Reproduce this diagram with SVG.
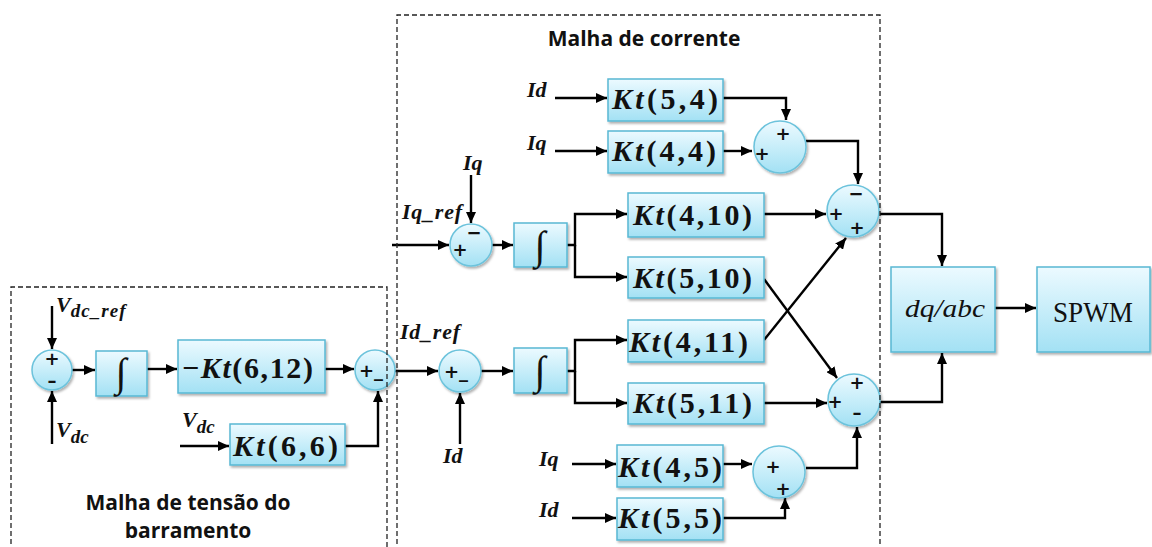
<svg xmlns="http://www.w3.org/2000/svg" width="1152" height="547" viewBox="0 0 1152 547">
  <style>
    .blk { fill: url(#fillG); stroke: #58b8d4; stroke-width: 1.5; filter: url(#shadow); }
    .sum { fill: url(#fillG); stroke: #6cc3dc; stroke-width: 1.5; filter: url(#shadow); }
    .kt { font-family: "Liberation Serif", "DejaVu Serif", serif; font-weight: bold; font-size: 30px; fill: #111; }
    .it { font-style: italic; }
    .intg { font-family: "Liberation Serif", "DejaVu Serif", serif; font-style: italic; font-size: 40px; fill: #111; text-anchor: middle; }
    .var { font-family: "Liberation Serif", "DejaVu Serif", serif; font-weight: bold; font-style: italic; font-size: 22px; fill: #111; }
    .sg { font-family: "DejaVu Sans", "Liberation Sans", sans-serif; font-weight: bold; font-size: 18px; fill: #111; text-anchor: middle; }
    .title { font-family: "Open Sans", "Liberation Sans", sans-serif; font-weight: bold; font-size: 21px; fill: #111; text-anchor: middle; }
    .wire { fill: none; stroke: #000; stroke-width: 2.4; marker-end: url(#arr); }
    .frame { fill: none; stroke: #222; stroke-width: 1.3; stroke-dasharray: 5 3; }
  </style>
  <defs>
    <linearGradient id="fillG" x1="0" y1="0" x2="0" y2="1">
      <stop offset="0" stop-color="#ecfaff"/>
      <stop offset="1" stop-color="#a3e1f4"/>
    </linearGradient>
    <filter id="shadow" x="-20%" y="-20%" width="150%" height="150%">
      <feDropShadow dx="1.5" dy="2" stdDeviation="1.2" flood-color="#000" flood-opacity="0.3"/>
    </filter>
    <marker id="arr" markerUnits="userSpaceOnUse" markerWidth="12" markerHeight="10" refX="11" refY="5" orient="auto">
      <path d="M0,0 L11,5 L0,10 Z" fill="#000"/>
    </marker>
  </defs>

  <!-- connectors -->
  <g id="connectors">
    <!-- DC bus voltage loop -->
    <path class="wire" d="M52,306 V349"/>
    <path class="wire" d="M52,444 V391"/>
    <path class="wire" d="M72,370 H95"/>
    <path class="wire" d="M147,369 H177"/>
    <path class="wire" d="M325,369 H354"/>
    <path class="wire" d="M180,446 H229"/>
    <path class="wire" d="M345,446 H378 V391"/>
    <!-- d-axis current -->
    <path class="wire" d="M395,371 H438"/>
    <path class="wire" d="M460,444 V393"/>
    <path class="wire" d="M481,371 H513"/>
    <path class="wire" d="M567,371 H575 V340 H627"/>
    <path class="wire" d="M575,371 V403 H627"/>
    <!-- q-axis current -->
    <path class="wire" d="M392,245 H449"/>
    <path class="wire" d="M471,175 V223"/>
    <path class="wire" d="M492,245 H513"/>
    <path class="wire" d="M567,245 H575 V214 H627"/>
    <path class="wire" d="M575,245 V277 H627"/>
    <!-- decoupling terms -->
    <path class="wire" d="M555,98 H607"/>
    <path class="wire" d="M555,151 H607"/>
    <path class="wire" d="M723,98 H786 V120"/>
    <path class="wire" d="M723,151 H752"/>
    <path class="wire" d="M806,141 H858 V184"/>
    <path class="wire" d="M572,464 H616"/>
    <path class="wire" d="M572,518 H616"/>
    <path class="wire" d="M723,464 H752"/>
    <path class="wire" d="M723,518 H785 V498"/>
    <path class="wire" d="M806,468 H857 V427"/>
    <!-- gains into the output summers -->
    <path class="wire" d="M764,214 H826"/>
    <path class="wire" d="M764,403 H827"/>
    <path class="wire" d="M764,340 L846,238"/>
    <path class="wire" d="M764,279 L837,378"/>
    <!-- to modulation -->
    <path class="wire" d="M880,214 H942 V266"/>
    <path class="wire" d="M880,402 H942 V353"/>
    <path class="wire" d="M995,308 H1036"/>
  </g>

  <!-- DC bus voltage loop -->
  <g id="sum-vdc">
    <circle class="sum" cx="52" cy="370" r="20"/>
    <text class="sg" x="52" y="365" font-size="16">+</text>
    <text class="sg" x="52" y="387" font-size="16">–</text>
  </g>
  <g id="int-vdc">
    <rect class="blk" x="96" y="351" width="51" height="45"/>
    <text class="intg" x="121" y="386">∫</text>
  </g>
  <g id="gain-kt612">
    <rect class="blk" x="178" y="340" width="147" height="53"/>
    <text class="kt" x="182" y="378" font-size="32" textLength="131" lengthAdjust="spacing">−<tspan class="it">Kt</tspan>(6,12)</text>
  </g>
  <g id="gain-kt66">
    <rect class="blk" x="230" y="424" width="115" height="41"/>
    <text class="kt" x="233" y="456" textLength="105" lengthAdjust="spacing"><tspan class="it">Kt</tspan>(6,6)</text>
  </g>
  <g id="sum-idref">
    <circle class="sum" cx="375" cy="370" r="20"/>
    <text class="sg" x="371" y="377">+_</text>
  </g>

  <!-- d-axis current loop -->
  <g id="sum-id">
    <circle class="sum" cx="460" cy="371" r="21"/>
    <text class="sg" x="456" y="378">+_</text>
  </g>
  <g id="int-id">
    <rect class="blk" x="514" y="348" width="53" height="45"/>
    <text class="intg" x="540" y="384">∫</text>
  </g>
  <g id="gain-kt411">
    <rect class="blk" x="628" y="320" width="136" height="42"/>
    <text class="kt" x="629" y="352" textLength="119" lengthAdjust="spacing"><tspan class="it">Kt</tspan>(4,11)</text>
  </g>
  <g id="gain-kt511">
    <rect class="blk" x="628" y="383" width="136" height="41"/>
    <text class="kt" x="633" y="413" textLength="119" lengthAdjust="spacing"><tspan class="it">Kt</tspan>(5,11)</text>
  </g>

  <!-- q-axis current loop -->
  <g id="sum-iq">
    <circle class="sum" cx="471" cy="245" r="21"/>
    <text class="sg" x="460" y="256">+</text>
    <text class="sg" x="474" y="239">−</text>
  </g>
  <g id="int-iq">
    <rect class="blk" x="514" y="223" width="53" height="44"/>
    <text class="intg" x="540" y="259">∫</text>
  </g>
  <g id="gain-kt410">
    <rect class="blk" x="628" y="193" width="136" height="44"/>
    <text class="kt" x="633" y="225" textLength="119" lengthAdjust="spacing"><tspan class="it">Kt</tspan>(4,10)</text>
  </g>
  <g id="gain-kt510">
    <rect class="blk" x="628" y="257" width="136" height="41"/>
    <text class="kt" x="633" y="288" textLength="119" lengthAdjust="spacing"><tspan class="it">Kt</tspan>(5,10)</text>
  </g>

  <!-- cross-coupling terms -->
  <g id="gain-kt54">
    <rect class="blk" x="608" y="79" width="115" height="42"/>
    <text class="kt" x="612" y="109" textLength="106" lengthAdjust="spacing"><tspan class="it">Kt</tspan>(5,4)</text>
  </g>
  <g id="gain-kt44">
    <rect class="blk" x="608" y="131" width="115" height="42"/>
    <text class="kt" x="612" y="161" textLength="104" lengthAdjust="spacing"><tspan class="it">Kt</tspan>(4,4)</text>
  </g>
  <g id="sum-top">
    <circle class="sum" cx="780" cy="147" r="26"/>
    <text class="sg" x="783" y="140">+</text>
    <text class="sg" x="762" y="160">+</text>
  </g>
  <g id="gain-kt45">
    <rect class="blk" x="617" y="445" width="106" height="42"/>
    <text class="kt" x="618" y="477" textLength="104" lengthAdjust="spacing"><tspan class="it">Kt</tspan>(4,5)</text>
  </g>
  <g id="gain-kt55">
    <rect class="blk" x="617" y="498" width="106" height="42"/>
    <text class="kt" x="618" y="528" textLength="104" lengthAdjust="spacing"><tspan class="it">Kt</tspan>(5,5)</text>
  </g>
  <g id="sum-bottom">
    <circle class="sum" cx="779" cy="472" r="26"/>
    <text class="sg" x="773" y="473">+</text>
    <text class="sg" x="783" y="495">+</text>
  </g>

  <!-- output summers -->
  <g id="sum-q-out">
    <circle class="sum" cx="853" cy="211" r="26"/>
    <text class="sg" x="856" y="200">−</text>
    <text class="sg" x="836" y="220">+</text>
    <text class="sg" x="857" y="234">+</text>
  </g>
  <g id="sum-d-out">
    <circle class="sum" cx="854" cy="400" r="26"/>
    <text class="sg" x="857" y="389">+</text>
    <text class="sg" x="835" y="408">+</text>
    <text class="sg" x="857" y="419">–</text>
  </g>

  <!-- modulation -->
  <g id="dq-abc">
    <rect class="blk" x="891" y="267" width="104" height="85"/>
    <text x="945" y="317" text-anchor="middle" font-family="Liberation Serif, serif" font-style="italic" font-size="26" fill="#111" textLength="80" lengthAdjust="spacingAndGlyphs">dq/abc</text>
  </g>
  <g id="spwm">
    <rect class="blk" x="1037" y="267" width="113" height="85"/>
    <text x="1093" y="322" text-anchor="middle" font-family="Liberation Serif, serif" font-size="30" fill="#111" textLength="80" lengthAdjust="spacingAndGlyphs">SPWM</text>
  </g>

  <!-- signal labels -->
  <g id="labels">
    <text class="var" x="56" y="312" font-size="25">V<tspan font-size="19" dy="5" textLength="55">dc_ref</tspan></text>
    <text class="var" x="56" y="437" font-size="25">V<tspan font-size="19" dy="6">dc</tspan></text>
    <text class="var" x="182" y="427" font-size="25">V<tspan font-size="19" dy="6">dc</tspan></text>
    <text class="var" x="400" y="339" font-size="19" textLength="60">Id_ref</text>
    <text class="var" x="443" y="463">Id</text>
    <text class="var" x="402" y="219" font-size="19" textLength="60">Iq_ref</text>
    <text class="var" x="463" y="170">Iq</text>
    <text class="var" x="527" y="97">Id</text>
    <text class="var" x="527" y="150">Iq</text>
    <text class="var" x="539" y="466">Iq</text>
    <text class="var" x="539" y="517">Id</text>
  </g>

  <!-- loop frames -->
  <g id="frame-current">
    <path class="frame" d="M397,560 V15 H880 V560"/>
    <text class="title" x="644" y="46">Malha de corrente</text>
  </g>
  <g id="frame-voltage">
    <path class="frame" d="M11,560 V287 H387 V560"/>
    <text class="title" x="188" y="510">Malha de tensão do</text>
    <text class="title" x="188" y="538">barramento</text>
  </g>
</svg>
